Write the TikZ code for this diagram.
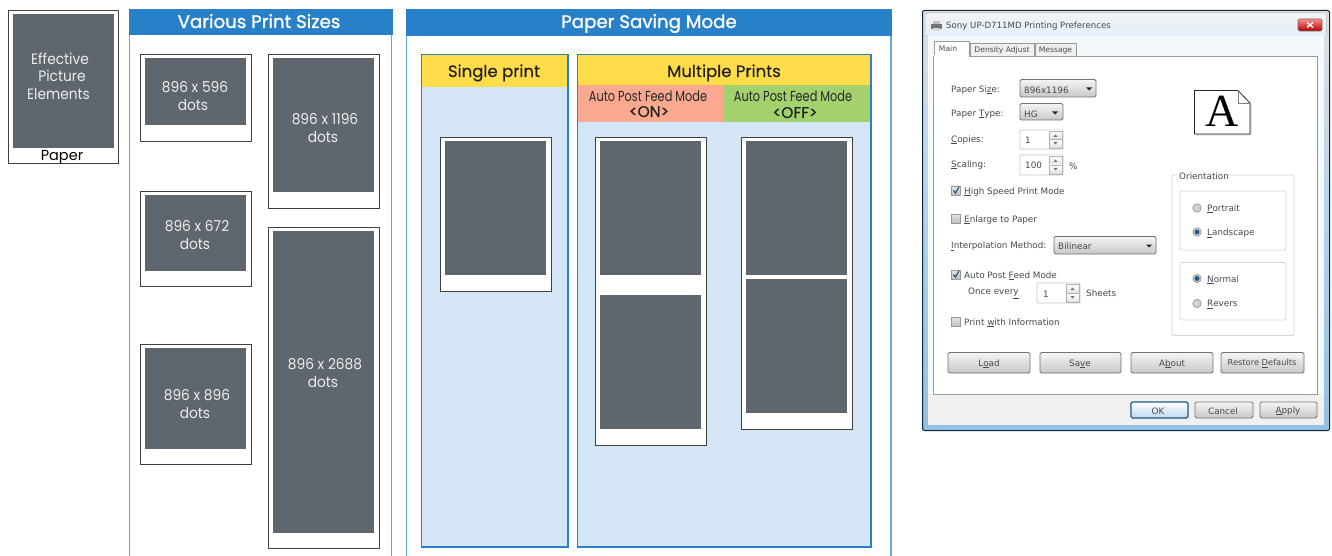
\documentclass[tikz,border=0pt]{standalone}
\usepackage{fontspec}
\setmainfont{Poppins}
\newfontfamily\cond[FakeStretch=0.78]{Poppins}
\newfontfamily\inpf[FakeStretch=0.92]{Poppins}
\newfontfamily\medf[FakeBold=1.3]{Poppins}
\newfontfamily\smedf[FakeBold=0.25]{Poppins}
\newfontfamily\dlg{DejaVu Sans}
\usetikzlibrary{shapes.geometric}
\definecolor{band}{HTML}{2880C8}
\definecolor{pale}{HTML}{D4E5F5}
\definecolor{slate}{HTML}{5F666D}
\definecolor{ywl}{HTML}{FFDC4A}
\definecolor{salm}{HTML}{F9A98F}
\definecolor{lgreen}{HTML}{A4D16E}
\definecolor{dlgtext}{HTML}{454A50}
\tikzset{
  x=1pt,y=-1pt,
  sheet/.style={draw=black!75,line width=.95pt,fill=white},
  picarea/.style={fill=slate},
  inpic/.style={text=white!88!slate,font=\inpf\fontsize{15}{15}\selectfont,inner sep=0pt,anchor=base,yshift=-1pt},
  head/.style={text=white,font=\medf\fontsize{18.2}{18}\selectfont,inner sep=0pt,anchor=base},
  sub/.style={text=black!88,font=\smedf\fontsize{16.5}{17}\selectfont,inner sep=0pt,anchor=base,yshift=-1pt},
  subb/.style={text=black!85,font=\cond\fontsize{14.5}{15}\selectfont,inner sep=0pt,anchor=base,yshift=-1pt},
  subc/.style={text=black!88,font=\smedf\fontsize{15.5}{15}\selectfont,inner sep=0pt,anchor=base},
  dtext/.style={text=dlgtext,font=\dlg\fontsize{8.8}{9}\selectfont,inner sep=0pt,anchor=west,yshift=-.8pt},
  dbtn/.style={text=dlgtext,font=\dlg\fontsize{8.8}{9}\selectfont,inner sep=0pt,yshift=-.8pt},
  btn/.style={draw=black!55,line width=.8pt,rounded corners=1.5pt,top color=white!96!black,bottom color=black!22},
  editbox/.style={draw=black!22,line width=.8pt,fill=white,rounded corners=1pt},
  spin/.style={draw=black!30,line width=.6pt,top color=white,bottom color=black!12},
  grp/.style={draw=black!16,line width=.8pt,rounded corners=2pt},
  chk/.style={draw=black!40,line width=.7pt,top color=black!10,bottom color=black!25},
  radiooff/.style={draw=black!40,line width=.7pt,fill=black!18},
  arrowhead/.style={fill=black!85},
}
\newcommand{\psheet}[4]{\draw[sheet] (#1,#2) rectangle (#3,#4);}
\newcommand{\parea}[4]{\fill[picarea] (#1,#2) rectangle (#3,#4);}
\newcommand{\checkb}[2]{\draw[chk] (#1,#2) rectangle ++(9,9);}
\newcommand{\tick}[2]{\draw[black!40!band,line width=1.1pt] (#1+2,#2+4.5) -- ++(2,2.5) -- ++(3.5,-6);}
\newcommand{\radio}[2]{\draw[radiooff] (#1,#2) circle (4.2);}
\newcommand{\radioon}[2]{\draw[radiooff] (#1,#2) circle (4.2);\fill[band!70!black] (#1,#2) circle (2.5);}
\newcommand{\spinner}[3]{% x, top, bottom
  \draw[spin] (#1,#2) rectangle (#1+13,{(#2+#3)/2});
  \draw[spin] (#1,{(#2+#3)/2}) rectangle (#1+13,#3);
  \fill[black!55] (#1+4.5,{#2+6}) -- ++(4,0) -- ++(-2,-2.5) -- cycle;
  \fill[black!55] (#1+4.5,{#3-6}) -- ++(4,0) -- ++(-2,2.5) -- cycle;
}
\newcommand{\combotri}[2]{\fill[arrowhead] (#1,#2) -- ++(6,0) -- ++(-3,3) -- cycle;}
\begin{document}
\begin{tikzpicture}
\useasboundingbox (0,0) rectangle (1332,556);
\fill[white] (0,0) rectangle (1332,556);
% Paper
\psheet{8}{10}{118.5}{163.5}
\parea{13}{14}{114}{148}
\node[inpic] (eff1) at (60,64) {Effective};
\node[inpic] (eff2) at (62,81) {Picture};
\node[inpic] (eff3) at (58.5,99) {Elements};
\node[text=black,font=\fontsize{14.5}{14}\selectfont,inner sep=0pt,anchor=base] (paperlbl) at (62,160.5) {Paper};
% Various Print Sizes
\draw[band!70!white,line width=1.3pt] (129.5,9) -- (129.5,556);
\draw[band!70!white,line width=1.3pt] (391.7,9) -- (391.7,556);
\fill[band] (129,9) rectangle (392.5,35);
\node[head] (varhead) at (259,28) {Various Print Sizes};
\psheet{140.5}{54.5}{251.5}{141}
\parea{145}{58}{246}{125}
\node[inpic] (a1) at (195,92) {896 x 596};
\node[inpic] (a2) at (193,110) {dots};
\psheet{268.5}{54.5}{379.5}{208}
\parea{273}{58}{374}{192}
\node[inpic] (b1) at (325,124) {896 x 1196};
\node[inpic] (b2) at (323,142) {dots};
\psheet{140.5}{191}{251.5}{286}
\parea{145}{195}{246}{271}
\node[inpic] (c1) at (197,230) {896 x 672};
\node[inpic] (c2) at (195,248) {dots};
\psheet{140.5}{344}{251.5}{464}
\parea{145}{348}{246}{449}
\node[inpic] (d1) at (197,399) {896 x 896};
\node[inpic] (d2) at (195,417) {dots};
\psheet{268.5}{227.5}{379.5}{548}
\parea{273}{231}{374}{533}
\node[inpic] (e1) at (325,368) {896 x 2688};
\node[inpic] (e2) at (323,386) {dots};
% Paper Saving Mode
\draw[band!70!white,line width=1.3pt] (406.5,9) -- (406.5,556);
\draw[band!70!white,line width=1.3pt] (891,9) -- (891,556);
\fill[band] (406,9) rectangle (891.7,36);
\node[head] (savehead) at (649,28) {Paper Saving Mode};
% Single
\draw[band,fill=pale,line width=1.3pt] (421.5,54.5) rectangle (568,547);
\fill[ywl] (422.2,55.2) rectangle (567.3,87);
\node[sub] (single) at (494,76) {Single print};
\psheet{440}{137.5}{551}{291.5}
\parea{445}{141}{546}{275}
% Multiple
\draw[band,fill=pale,line width=1.3pt] (577.5,54.5) rectangle (871,547);
\fill[ywl] (578.2,55.2) rectangle (870.3,85);
\fill[salm] (578.2,85) rectangle (724,122);
\fill[lgreen] (724,85) rectangle (870.3,122);
\node[sub] (multi) at (724,76) {Multiple Prints};
\node[subb] (on1) at (648,101) {Auto Post Feed Mode};
\node[subc] (on2) at (649,117) {<ON>};
\node[subb] (off1) at (793,101) {Auto Post Feed Mode};
\node[subc] (off2) at (795,118) {<OFF>};
\psheet{595}{137.5}{706}{445}
\parea{600}{141}{701}{275}
\parea{600}{295}{701}{429}
\psheet{741.5}{137.5}{852.5}{429}
\parea{746}{141}{847}{275}
\parea{746}{279}{847}{413}
% Dialog window
\draw[draw=black!70!band,line width=1pt,rounded corners=2pt,top color=black!12!white,bottom color=band!50!white,middle color=band!35!white] (922.5,10.5) rectangle (1329.5,430.5);
\fill[top color=black!5,bottom color=pale!60!white,rounded corners=1pt] (926,13) rectangle (1326,36);
\fill[white!75!pale] (928,36) rectangle (1324,425);
\fill[black!6] (928,394) rectangle (1324,425);
\draw[black!40,line width=.8pt,fill=white] (933,56) rectangle (1317.5,394);
% printer icon
\fill[black!55] (931,24) rectangle (942,29);
\fill[black!25] (933,21) rectangle (940,24);
\fill[black!15] (933,28) rectangle (940,31);
\node[dtext,font=\dlg\fontsize{8.6}{9}\selectfont] (title) at (946,25) {Sony UP-D711MD Printing Preferences};
% close button
\draw[draw=black!60,line width=.6pt,rounded corners=1.5pt,top color=red!45!white,bottom color=red!70!black] (1298,19) rectangle (1322,31);
\draw[white,line width=1.3pt] (1307,22.5) -- (1313,27.5) (1313,22.5) -- (1307,27.5);
% tabs
\draw[black!40,line width=.7pt,fill=black!6] (970,43) rectangle (1034,56);
\draw[black!40,line width=.7pt,fill=black!6] (1035,43) rectangle (1076,56);
\draw[black!40,line width=.7pt,fill=white] (934,56.4) -- (934,41) -- (969,41) -- (969,56.4);
\fill[white] (934.4,55) rectangle (968.6,57);
\node[dbtn,font=\dlg\fontsize{7.6}{9}\selectfont] (tabmain) at (948,47.5) {Main};
\node[dbtn,font=\dlg\fontsize{7.6}{9}\selectfont] (tabdens) at (1002,49.5) {Density Adjust};
\node[dbtn,font=\dlg\fontsize{7.6}{9}\selectfont] (tabmsg) at (1055.5,49.5) {Message};
% left column
\node[dtext] (lsize) at (951,89) {Paper Si\underline{z}e:};
\draw[btn] (1020,79.5) rectangle (1096,97);
\node[dtext] (vsize) at (1024,89) {896x1196};
\combotri{1086}{87.5}
\node[dtext] (ltype) at (951,113) {Paper \underline{T}ype:};
\draw[btn] (1020,103.5) rectangle (1063,120);
\node[dtext] (vtype) at (1024,113) {HG};
\combotri{1052}{111.5}
\node[dtext] (lcop) at (951,139) {\underline{C}opies:};
\draw[editbox] (1020,130) rectangle (1063,149);
\spinner{1049}{131}{148}
\node[dtext] (vcop) at (1025,139) {1};
\node[dtext] (lsca) at (951,164) {\underline{S}caling:};
\draw[editbox] (1020,155) rectangle (1063,175);
\spinner{1049}{156}{174}
\node[dtext] (vsca) at (1025,164) {100};
\node[dtext] (pct) at (1069,165) {\%};
\checkb{951.5}{186}\tick{951.5}{186}
\node[dtext] (high) at (964,191) {\underline{H}igh Speed Print Mode};
\checkb{951.5}{214}
\node[dtext] (enl) at (964,219) {\underline{E}nlarge to Paper};
\node[dtext] (interp) at (951,245.5) {\underline{I}nterpolation Method:};
\draw[btn] (1054,236.5) rectangle (1156,254);
\node[dtext] (vint) at (1058,245.5) {Bilinear};
\combotri{1146}{244.5}
\checkb{951.5}{270}\tick{951.5}{270}
\node[dtext] (apf) at (964,275) {Auto Post \underline{F}eed Mode};
\node[dtext] (once) at (968,292.5) {Once ever\underline{y}};
\draw[editbox] (1037,283) rectangle (1080,303);
\spinner{1066}{284}{302}
\node[dtext] (vonce) at (1043,293) {1};
\node[dtext] (sheets) at (1086,292.5) {Sheets};
\checkb{951.5}{317}
\node[dtext] (pwi) at (964,322) {Print \underline{w}ith Information};
% A icon
\fill[black!18] (1196,92) -- (1239,92) -- (1251.5,104) -- (1251.5,135.5) -- (1196,135.5) -- cycle;
\draw[black!85,line width=.8pt,fill=white] (1194.5,90.5) -- (1238,90.5) -- (1250,103) -- (1250,134) -- (1194.5,134) -- cycle;
\draw[black!50,line width=.6pt] (1238,90.5) -- (1238,103) -- (1250,103);
\node[font=\fontspec{Liberation Serif}\fontsize{46}{46}\selectfont,text=black,inner sep=0pt,anchor=base] (bigA) at (1222.5,126.5) {A};
% Orientation
\draw[grp] (1172,175) rectangle (1294,335.5);
\fill[white] (1177,170) rectangle (1229,180);
\node[dtext] (orient) at (1179,175) {Orientation};
\draw[grp] (1180,191) rectangle (1286,250);
\draw[grp] (1180,262.5) rectangle (1286,320);
\radio{1197}{208}
\node[dtext] (port) at (1207,208) {\underline{P}ortrait};
\radioon{1197}{232}
\node[dtext] (land) at (1207,232.5) {\underline{L}andscape};
\radioon{1197}{278.5}
\node[dtext] (norm) at (1207,279) {\underline{N}ormal};
\radio{1197}{303.5}
\node[dtext] (rev) at (1207,303.5) {\underline{R}evers};
% buttons
\draw[btn] (948,352.5) rectangle (1030,373);
\node[dbtn] (load) at (989,363) {L\underline{o}ad};
\draw[btn] (1040,352.5) rectangle (1121,373);
\node[dbtn] (save) at (1080,363) {Sa\underline{v}e};
\draw[btn] (1131,352.5) rectangle (1213,373);
\node[dbtn] (about) at (1172,363) {A\underline{b}out};
\draw[btn] (1221,352.5) rectangle (1304,373);
\node[dbtn,font=\dlg\fontsize{8.3}{9}\selectfont] (rest) at (1262,363) {Restore \underline{D}efaults};
\draw[btn,draw=band!70!black,line width=1.1pt,top color=white,bottom color=band!30!white] (1131,402) rectangle (1188,418);
\node[dbtn] (ok) at (1158,410) {OK};
\draw[btn] (1195,402) rectangle (1253,418);
\node[dbtn] (cancel) at (1223,410) {Cancel};
\draw[btn] (1260,402) rectangle (1317,418);
\node[dbtn] (apply) at (1288,410) {\underline{A}pply};
\end{tikzpicture}
\end{document}
